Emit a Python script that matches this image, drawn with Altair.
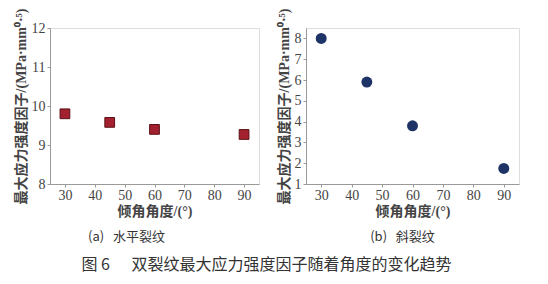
import altair as alt
import pandas as pd

angles = [30, 45, 60, 90]
k_horizontal = [9.8, 9.58, 9.4, 9.27]
k_inclined = [8.0, 5.9, 3.8, 1.75]
x_ticks = [30, 40, 50, 60, 70, 80, 90]
y_ticks_a = [8, 9, 10, 11, 12]
y_ticks_b = [1, 2, 3, 4, 5, 6, 7, 8]

NB = "\u00a0"
x_title = "倾角角度/(°)"
y_title = "最大应力强度因子/(MPa·mm⁰·⁵)"
cap_a = "(a)" + NB * 3 + "水平裂纹"
cap_b = "(b)" + NB * 3 + "斜裂纹"
cap_main = "图" + NB + "6" + NB * 6 + "双裂纹最大应力强度因子随着角度的变化趋势"

df_a = pd.DataFrame({"angle": angles, "k": k_horizontal})
df_b = pd.DataFrame({"angle": angles, "k": k_inclined})

serif = "Liberation Serif"
mixed = "Liberation Serif, Noto Sans CJK SC"
cjk = "Noto Sans CJK SC"


def xaxis():
    return alt.Axis(values=x_ticks, title=x_title, grid=False, labelFont=serif,
                    labelFontSize=14, labelColor="#444", titleFont=mixed,
                    titleFontSize=14, titleFontWeight="bold", titleColor="#444",
                    titlePadding=2, tickSize=3, tickColor="#999", domainColor="#999",
                    labelPadding=1)


def yaxis(vals):
    return alt.Axis(values=vals, title=y_title, grid=False, labelFont=serif,
                    labelFontSize=14, labelColor="#444", titleFont=mixed,
                    titleFontSize=14, titleFontWeight="bold", titleColor="#444",
                    titlePadding=3, tickSize=3, tickColor="#999", domainColor="#999",
                    labelPadding=2)


left = alt.Chart(df_a).mark_square(size=95, color="#a3202e", stroke="#5a1016",
                                   strokeWidth=1, opacity=1).encode(
    x=alt.X("angle:Q", scale=alt.Scale(domain=[25, 95], nice=False), axis=xaxis()),
    y=alt.Y("k:Q", scale=alt.Scale(domain=[8, 12], nice=False), axis=yaxis(y_ticks_a)),
).properties(width=209, height=156,
             title=alt.TitleParams(cap_a, orient="bottom", font=cjk, fontSize=13,
                                   fontWeight="normal", color="#333", offset=13, dx=-28))

right = alt.Chart(df_b).mark_circle(size=120, color="#1f3466", opacity=1).encode(
    x=alt.X("angle:Q", scale=alt.Scale(domain=[25, 95], nice=False), axis=xaxis()),
    y=alt.Y("k:Q", scale=alt.Scale(domain=[1, 8.5], nice=False), axis=yaxis(y_ticks_b)),
).properties(width=213, height=156,
             title=alt.TitleParams(cap_b, orient="bottom", font=cjk, fontSize=13,
                                   fontWeight="normal", color="#333", offset=13, dx=-10))

chart = alt.hconcat(left, right, spacing=16).properties(
    title=alt.TitleParams(cap_main, orient="bottom", font=cjk, fontSize=16,
                          fontWeight="normal", color="#333", offset=12, anchor="middle"),
    padding={"left": 13, "top": 7, "right": 5, "bottom": 5},
).configure_view(stroke="#999", strokeWidth=1.5).configure(background="white")

chart.save("out.html", embed_options={"renderer": "svg", "actions": False})
